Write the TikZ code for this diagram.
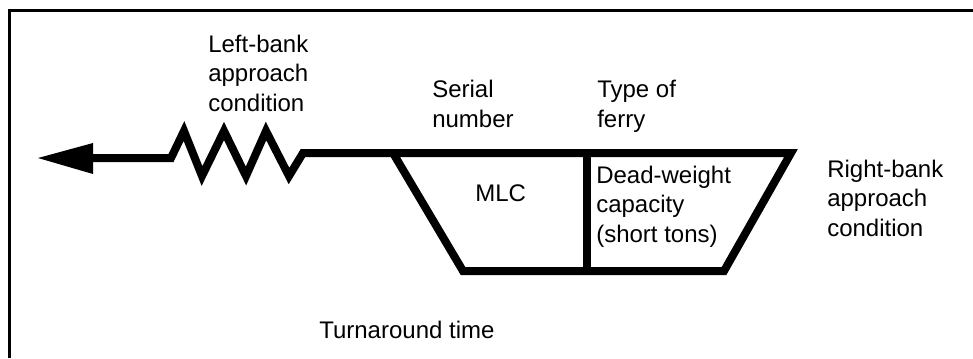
\documentclass[tikz,border=0pt]{standalone}
\usepackage{fontspec}
\setmainfont{Liberation Sans}
\begin{document}
\begin{tikzpicture}[x=0.75pt,y=-0.75pt,
  lbl/.style={anchor=base west,inner sep=0pt,align=left,font=\fontsize{18pt}{22.1pt}\selectfont},
  frameline/.style={line width=2.4pt},
  heavy/.style={line width=6pt,line join=miter,miter limit=12}]
\useasboundingbox (0,0) rectangle (973,358);
% frame (top and left edges)
\draw[frameline] (9.7,358) -- (9.7,10.7) -- (973,10.7);
% coordinates
\coordinate (tip) at (38,158);
\coordinate (hb) at (93,158);
\coordinate (zs) at (171,158);
\coordinate (ze) at (303,153);
\coordinate (tl) at (393,153);
\coordinate (bl) at (463,271);
\coordinate (br) at (724,271);
\coordinate (tr) at (791,153);
\coordinate (dt) at (587,153);
\coordinate (db) at (587,271);
% arrow head and shaft
\fill (tip) -- (93,143) -- (93,174) -- cycle;
\draw[heavy] (hb) -- (zs) -- (184,131) -- (202,176) -- (224,131) -- (246,176) -- (266,131) -- (289,176) -- (ze) -- (tl);
% ferry trapezoid
\draw[heavy] (tl) -- (tr) -- (br) -- (bl) -- (tl);
\draw[heavy] (dt) -- (db);
% labels (anchored at the baseline of the last line)
\node[lbl] (left) at (208,111) {Left-bank\\approach\\condition};
\node[lbl] (serial) at (432,127) {Serial\\number};
\node[lbl] (type) at (597,127) {Type of\\ferry};
\node[lbl] (mlc) at (475,201) {MLC};
\node[lbl] (dw) at (596,242) {Dead-weight\\capacity\\(short tons)};
\node[lbl] (right) at (827,236) {Right-bank\\approach\\condition};
\node[lbl] (turn) at (319,338) {Turnaround time};
\end{tikzpicture}
\end{document}
